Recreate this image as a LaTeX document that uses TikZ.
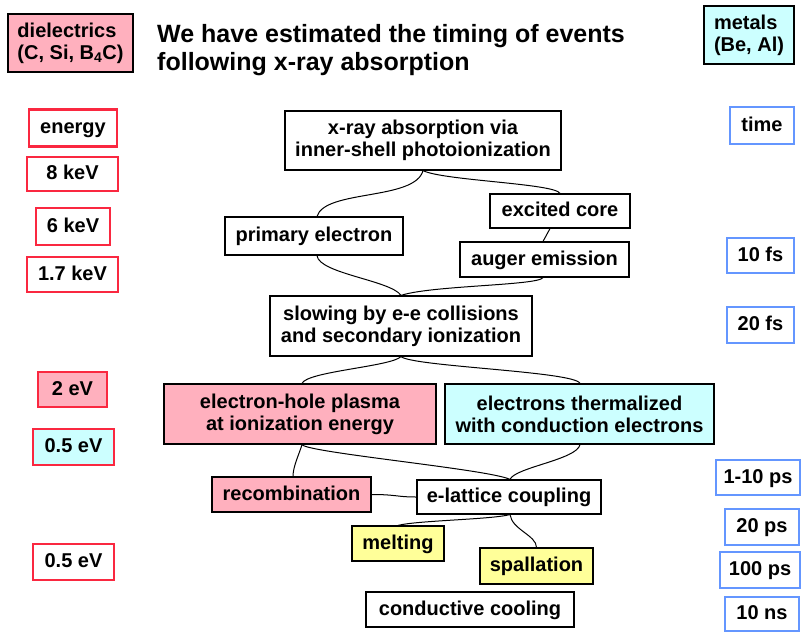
\documentclass[tikz,border=0pt]{standalone}
\usepackage{fontspec}
\setmainfont{Liberation Sans}
\usetikzlibrary{calc}
\definecolor{pinkf}{RGB}{255,176,190}
\definecolor{cyanf}{RGB}{204,255,255}
\definecolor{yellowf}{RGB}{255,255,153}
\definecolor{redb}{RGB}{250,40,64}
\definecolor{blueb}{RGB}{100,150,255}
\tikzset{
  boxbase/.style={inner sep=0pt, align=center, font=\fontsize{20}{22}\selectfont\bfseries},
  bbox/.style={boxbase, draw=black, line width=1.2pt, fill=white},
  rbox/.style={boxbase, draw=redb, line width=2.4pt, fill=white},
  ubox/.style={boxbase, draw=blueb, line width=2.4pt, fill=white},
  oneline/.style={text height=14.5pt, text depth=3pt},
  conn/.style={draw=black, line width=1pt},
  sz/.style 2 args={minimum width=#1pt, minimum height=#2pt}
}
\begin{document}
\begin{tikzpicture}[x=1pt,y=-1pt]
\useasboundingbox (0,0) rectangle (802,632);
% header
\node[bbox, fill=pinkf, sz={125}{58}, align=left] (diel) at (70.5,43) {dielectrics\\(C, Si, B\textsubscript{4}C)};
\node[bbox, fill=cyanf, sz={90}{58}, align=left] (metals) at (749,35) {metals\\(Be, Al)};
\node[anchor=base west, inner sep=0pt, align=left, font=\fontsize{25}{28}\selectfont\bfseries] (title) at (157,70) {We have estimated the timing of events\\following x-ray absorption};
% left column
\node[rbox, oneline, sz={88}{37}] (energy) at (73,128) {energy};
\node[rbox, oneline, sz={91}{34}] (e8) at (72.5,174) {8 keV};
\node[rbox, oneline, sz={74}{37}] (e6) at (73,226.5) {6 keV};
\node[rbox, oneline, sz={91}{35}] (e17) at (72.5,274.5) {1.7 keV};
\node[rbox, oneline, fill=pinkf, sz={69}{35}] (e2) at (72.5,389.5) {2 eV};
\node[rbox, oneline, fill=cyanf, sz={81}{36}] (e05a) at (73.5,447) {0.5 eV};
\node[rbox, oneline, sz={81}{36}] (e05b) at (73.5,562) {0.5 eV};
% right column
\node[ubox, oneline, sz={64}{37}] (time) at (762,125.5) {time};
\node[ubox, oneline, sz={67}{35}] (t10fs) at (760.5,255.5) {10 fs};
\node[ubox, oneline, sz={67}{36}] (t20fs) at (760.5,325) {20 fs};
\node[ubox, oneline, sz={84}{35}] (t110ps) at (758,477.5) {1-10 ps};
\node[ubox, oneline, sz={74}{36}] (t20ps) at (762,527) {20 ps};
\node[ubox, oneline, sz={80}{36}] (t100ps) at (760,570) {100 ps};
\node[ubox, oneline, sz={74}{34}] (t10ns) at (762,614) {10 ns};
% middle
\node[bbox, sz={276}{59}] (xray) at (423,140.5) {x-ray absorption via\\inner-shell photoionization};
\node[bbox, oneline, sz={140}{34}] (excited) at (560,211) {excited core};
\node[bbox, oneline, sz={178}{38}] (primary) at (314,236) {primary electron};
\node[bbox, oneline, sz={169}{35}] (auger) at (544.5,259.5) {auger emission};
\node[bbox, sz={262}{60}] (slowing) at (401,326) {slowing by e-e collisions\\and secondary ionization};
\node[bbox, fill=pinkf, sz={272}{60}] (plasma) at (300,414) {electron-hole plasma\\at ionization energy};
\node[bbox, fill=cyanf, sz={269}{60}] (therm) at (579.5,414) {electrons thermalized\\with conduction electrons};
\node[bbox, oneline, fill=pinkf, sz={159}{35}] (recomb) at (291.5,494.5) {recombination};
\node[bbox, oneline, sz={184}{34}] (elat) at (509,497) {e-lattice coupling};
\node[bbox, oneline, fill=yellowf, sz={92}{35}] (melt) at (398,543.5) {melting};
\node[bbox, oneline, fill=yellowf, sz={113}{36}] (spall) at (536.5,566) {spallation};
\node[bbox, oneline, sz={208}{35}] (cool) at (470,609.5) {conductive cooling};
% connectors
\draw[conn] (xray.south) .. controls +(-8,30) and +(8,-27) .. ([xshift=3pt]primary.north);
\draw[conn] (xray.south) .. controls +(20,10) and +(-5,-10) .. (excited.north);
\draw[conn] ([xshift=-10pt]excited.south) -- ([xshift=-1.5pt]auger.north);
\draw[conn] ([xshift=3pt]primary.south) .. controls +(2,18) and +(-10,-15) .. (slowing.north);
\draw[conn] ([xshift=-1.5pt]auger.south) .. controls +(-5,8) and +(30,-10) .. (slowing.north);
\draw[conn] (slowing.south) .. controls +(-10,10) and +(5,-12) .. ([xshift=2pt]plasma.north);
\draw[conn] (slowing.south) .. controls +(12,10) and +(-5,-12) .. ([xshift=0.5pt]therm.north);
\draw[conn] ([xshift=2pt]plasma.south) .. controls +(-3,10) and +(0,-10) .. ([xshift=1.5pt]recomb.north);
\draw[conn] ([xshift=2pt]plasma.south) .. controls +(5,8) and +(-20,-10) .. ([xshift=1pt]elat.north);
\draw[conn] ([xshift=0.5pt]therm.south) .. controls +(-3,15) and +(5,-12) .. ([xshift=1pt]elat.north);
\draw[conn] (recomb.east) .. controls +(25,0) and +(-20,0) .. (elat.west);
\draw[conn] ([xshift=1pt]elat.south) .. controls +(-20,5) and +(20,-5) .. (melt.north);
\draw[conn] ([xshift=1pt]elat.south) .. controls +(2,15) and +(0,-12) .. (spall.north);
\end{tikzpicture}
\end{document}
